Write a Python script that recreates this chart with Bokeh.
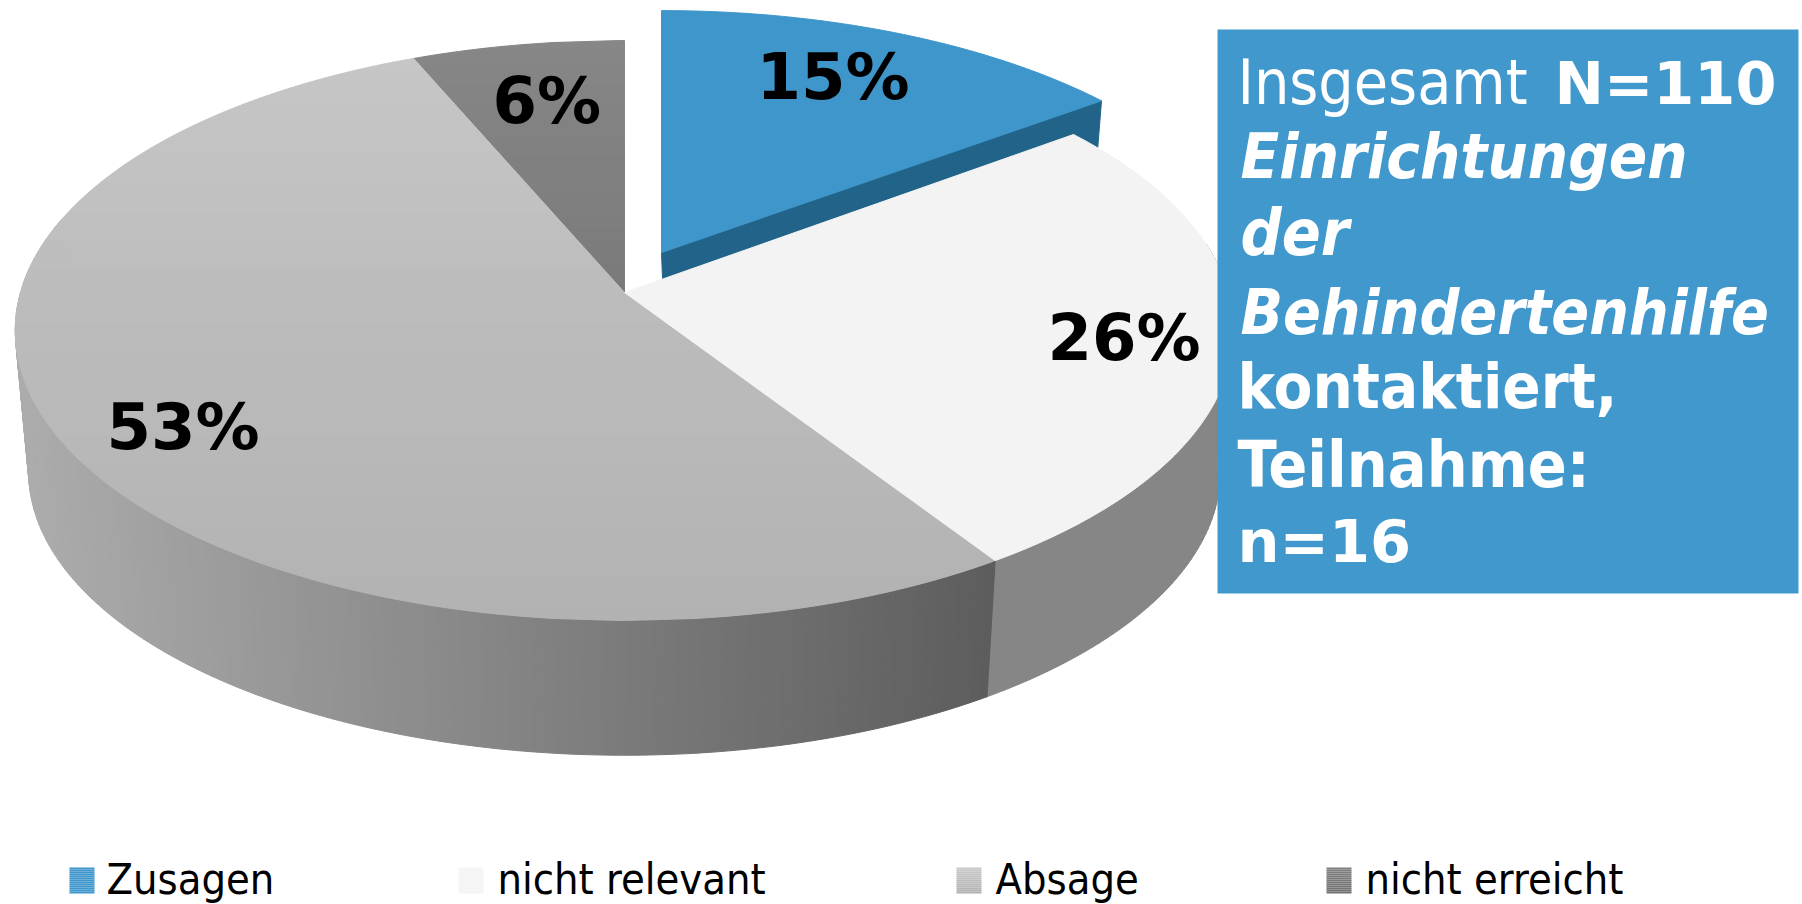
import numpy as np
from bokeh.plotting import figure
from bokeh.core.properties import value
from bokeh.embed import file_html
from bokeh.resources import INLINE

categories = ["Zusagen", "nicht relevant", "Absage", "nicht erreicht"]
shares = [14.8, 26.0, 52.8, 6.4]
share_labels = ["15%", "26%", "53%", "6%"]

# Pixel frame of the reference, used as the data frame of the figure
W, H = 1802, 904
p = figure(width=W, height=H, output_backend="svg", toolbar_location=None,
           x_range=(0, W), y_range=(H, 0), min_border=0, outline_line_color=None,
           background_fill_color="white", border_fill_color="white")
p.axis.visible = False
p.grid.visible = False

# Perspective of the disc
CX, CY, CY_BOT, A, B, K, S = 624.0, 292.0, 434.0, 604.0, 285.0, 0.131, 0.978
EX_DX, EX_DY, EX_SX, EX_SY = 37.0, -40.0, 0.98, 0.96

cum = np.cumsum([0] + shares) / sum(shares) * 360.0
angles = list(zip(cum[:-1], cum[1:]))


def top(t):
    t = np.radians(t)
    w = 1 + K * np.cos(t)
    return CX + A * np.sin(t) / w, CY - B * np.cos(t) / w


def bot(t):
    t = np.radians(t)
    w = 1 + K * np.cos(t)
    return CX + S * A * np.sin(t) / w, CY_BOT - S * B * np.cos(t) / w


def grey(v):
    v = int(round(v))
    return f"#{v:02x}{v:02x}{v:02x}"


def wedge(a0, a1):
    t = np.linspace(a0, a1, 160)
    x, y = top(t)
    return np.r_[CX, x], np.r_[CY, y]


def draw(xs, ys, cols):
    p.patches(xs, ys, fill_color=cols, line_color=cols, line_width=1)


def side(a0, a1, colfn):
    ts = np.arange(a0, a1 + 1, 1.0)
    xs, ys, cs = [], [], []
    for t0, t1 in zip(ts[:-1], ts[1:]):
        xa, ya = top(np.array([t0, t1]))
        xb, yb = bot(np.array([t1, t0]))
        xs.append(list(np.r_[xa, xb]))
        ys.append(list(np.r_[ya, yb]))
        cs.append(colfn((xa.mean() + xb.mean()) / 2))
    draw(xs, ys, cs)


def vgrad(px, py, y_a, v_a, y_b, v_b, step=2.0):
    """Vertical grey gradient inside a polygon, as thin horizontal bands."""
    px2, py2 = np.r_[px, px[0]], np.r_[py, py[0]]

    def span(y):
        c = []
        for i in range(len(px)):
            y0, y1 = py2[i], py2[i + 1]
            if (y0 - y) * (y1 - y) <= 0 and y0 != y1:
                c.append(px2[i] + (y - y0) / (y1 - y0) * (px2[i + 1] - px2[i]))
        return (min(c), max(c)) if c else None

    xs, ys, cs = [], [], []
    for y in np.arange(py.min() + 0.01, py.max(), step):
        y1 = min(y + step, py.max() - 0.01)
        s0, s1 = span(y), span(y1)
        if s0 is None or s1 is None:
            continue
        xs.append([s0[0], s0[1], s1[1], s1[0]])
        ys.append([y, y, y1, y1])
        cs.append(grey(v_a + (v_b - v_a) * ((y + y1) / 2 - y_a) / (y_b - y_a)))
    draw(xs, ys, cs)


(a_z0, a_z1), (a_n0, a_n1), (a_a0, a_a1), (a_e0, a_e1) = angles

# Cylinder walls
side(80, a_n1, lambda x: "#868686")
side(a_n1, 285, lambda x: grey(172 + (93 - 172) * (x - 26) / (987 - 26)))

# Top faces of the grey slices
x, y = wedge(a_e0, a_e1)
vgrad(x, y, 40, 136, 292, 122)
x, y = wedge(a_a0, a_a1)
vgrad(x, y, 56, 198, 620, 178)

# Exploded slice: cut face
zx, zy = wedge(a_z0, a_z1)
ex = CX + EX_DX + EX_SX * (zx - CX)
ey = CY + EX_DY + EX_SY * (zy - CY)
p.patch([ex[0], ex[-1], ex[-1] - 4, ex[0] + 2], [ey[0], ey[-1], ey[-1] + 50, ey[0] + 50],
        fill_color="#226489", line_color="#226489", line_width=1)

# Light slice on top of that face
x, y = wedge(a_n0, a_n1)
p.patch(x, y, fill_color="#f3f3f3", line_color="#f3f3f3", line_width=1)

# Exploded slice: top face
p.patch(ex, ey, fill_color="#3e96ca", line_color="#3e96ca", line_width=1)

# Info box
p.quad(left=[1217], right=[1798], top=[29], bottom=[593], fill_color="#4098cd", line_color=None)

COND = value("DejaVu Sans Condensed")
PLAIN = value("DejaVu Sans")
BASELINE_SHIFT = 0.345


def label(x_, y_, s, size, style="normal", color="#000000", font=PLAIN):
    p.text([x_], [y_ - BASELINE_SHIFT * size], text=[s], text_font=font, text_font_size=value(f"{size}px"),
           text_font_style=value(style), text_color=color, text_baseline="alphabetic",
           text_align="left")


for s, (lx, ly) in zip(share_labels, [(756, 99), (1047, 360), (106, 449), (492, 123)]):
    label(lx, ly, s, 64, "bold")

label(1237, 103, "Insgesamt", 62, "normal", "white", COND)
label(1554, 103, "N=110", 59, "bold", "white", PLAIN)
label(1240, 178, "Einrichtungen", 63, "bold italic", "white", COND)
label(1240, 255, "der", 64, "bold italic", "white", COND)
label(1240, 333, "Behindertenhilfe", 62, "bold italic", "white", COND)
label(1237, 408, "kontaktiert,", 63, "bold", "white", COND)
label(1237, 487, "Teilnahme:", 64, "bold", "white", COND)
label(1237, 561, "n=16", 59, "bold", "white", PLAIN)

# Legend
swatch_x = [69, 458, 956, 1326]
text_x = [106, 497, 995, 1365]
swatch_top = [(62, 150, 205), (244, 244, 244), (200, 200, 200), (128, 128, 128)]
swatch_bot = [(62, 150, 205), (244, 244, 244), (176, 176, 176), (112, 112, 112)]
for sx, tx, name, c0, c1 in zip(swatch_x, text_x, categories, swatch_top, swatch_bot):
    ys_ = np.arange(867, 893, 2.0)
    cols = ["#%02x%02x%02x" % tuple(int(a + (b - a) * (v - 867) / 26) for a, b in zip(c0, c1)) for v in ys_]
    p.quad(left=sx, right=sx + 25, top=ys_, bottom=ys_ + 2, fill_color=cols, line_color=None)
    label(tx, 893, name, 43, "normal", "#000000", COND)

open("out.html", "w").write(file_html(p, INLINE))
